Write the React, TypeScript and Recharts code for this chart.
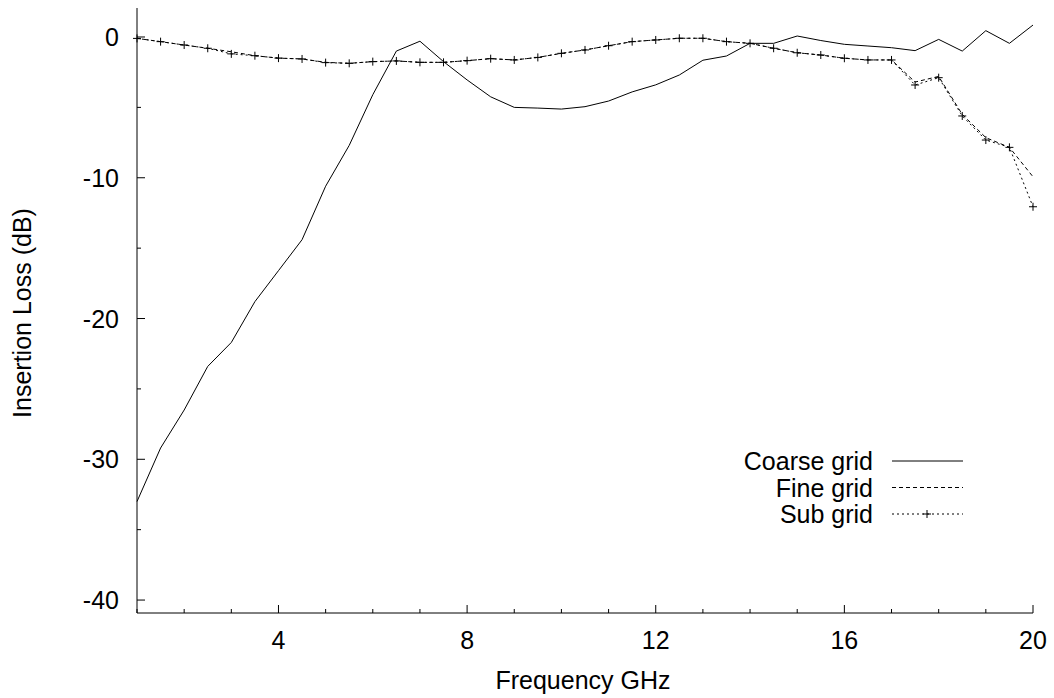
import React from "react";
import { LineChart, Line, XAxis, YAxis, Legend } from "recharts";

const frequency = [
  1, 1.5, 2, 2.5, 3, 3.5, 4, 4.5, 5, 5.5, 6, 6.5, 7, 7.5, 8, 8.5, 9, 9.5, 10, 10.5,
  11, 11.5, 12, 12.5, 13, 13.5, 14, 14.5, 15, 15.5, 16, 16.5, 17, 17.5, 18, 18.5, 19, 19.5, 20,
];
const coarseGrid = [
  -33.0, -29.2, -26.5, -23.4, -21.7, -18.8, -16.6, -14.4, -10.6, -7.7, -4.1, -1.0, -0.3, -1.75, -3.05, -4.25, -5.0, -5.05, -5.12, -4.95,
  -4.55, -3.9, -3.4, -2.7, -1.65, -1.35, -0.45, -0.45, 0.07, -0.25, -0.52, -0.64, -0.76, -0.97, -0.17, -1.0, 0.45, -0.45, 0.85,
];
const fineGrid = [
  -0.1, -0.33, -0.57, -0.8, -1.05, -1.33, -1.5, -1.56, -1.8, -1.87, -1.75, -1.7, -1.8, -1.8, -1.68, -1.54, -1.63, -1.45, -1.16, -0.92,
  -0.62, -0.33, -0.21, -0.09, -0.09, -0.33, -0.45, -0.8, -1.12, -1.28, -1.51, -1.63, -1.63, -3.2, -2.8, -5.5, -7.15, -7.84, -9.93,
];
const subGrid = [
  -0.1, -0.33, -0.57, -0.8, -1.2, -1.33, -1.5, -1.56, -1.82, -1.87, -1.75, -1.7, -1.8, -1.8, -1.68, -1.54, -1.63, -1.45, -1.16, -0.92,
  -0.62, -0.33, -0.21, -0.09, -0.09, -0.33, -0.45, -0.8, -1.12, -1.28, -1.51, -1.63, -1.63, -3.41, -2.89, -5.61, -7.32, -7.84, -12.06,
];

const xTicks = [1, 2, 3, 4, 5, 6, 7, 8, 9, 10, 11, 12, 13, 14, 15, 16, 17, 18, 19, 20];
const xMajorTicks = [4, 8, 12, 16, 20];
const yTicks = [-40, -35, -30, -25, -20, -15, -10, -5, 0];
const yMajorTicks = [-40, -30, -20, -10, 0];

const seriesNames = ["Coarse grid", "Fine grid", "Sub grid"];
const xLabel = "Frequency GHz";
const yLabel = "Insertion Loss (dB)";

const data = frequency.map((f, i) => ({
  f,
  coarse: coarseGrid[i],
  fine: fineGrid[i],
  sub: subGrid[i],
}));

const W = 1054;
const H = 698;
const PLOT_LEFT = 137;
const PLOT_BOTTOM = 613;
const FONT = "'Liberation Sans', Arial, Helvetica, sans-serif";
const FS = 25;

const series = [
  { key: "coarse", name: seriesNames[0], dash: undefined as string | undefined, marker: false },
  { key: "fine", name: seriesNames[1], dash: "4 3", marker: false },
  { key: "sub", name: seriesNames[2], dash: "2 3", marker: true },
];

const XTick = (props: any) => {
  const { x, payload } = props;
  const major = xMajorTicks.includes(payload.value);
  return (
    <g>
      <line x1={x} x2={x} y1={PLOT_BOTTOM} y2={PLOT_BOTTOM - (major ? 8 : 4)} stroke="#000" strokeWidth={1} />
      {major && (
        <text x={x} y={PLOT_BOTTOM + 36} textAnchor="middle" fontFamily={FONT} fontSize={FS} fill="#000">
          {payload.value}
        </text>
      )}
    </g>
  );
};

const YTick = (props: any) => {
  const { y, payload } = props;
  const major = yMajorTicks.includes(payload.value);
  return (
    <g>
      <line x1={PLOT_LEFT} x2={PLOT_LEFT + (major ? 8 : 4)} y1={y} y2={y} stroke="#000" strokeWidth={1} />
      {major && (
        <text x={119} y={y + 9} textAnchor="end" fontFamily={FONT} fontSize={FS} fill="#000">
          {payload.value}
        </text>
      )}
    </g>
  );
};

const PlusDot = (props: any) => {
  const { cx, cy, index } = props;
  if (cx == null || cy == null) return <g key={index} />;
  const a = 4;
  return (
    <g key={index}>
      <line x1={cx - a} x2={cx + a} y1={cy} y2={cy} stroke="#000" strokeWidth={1} />
      <line x1={cx} x2={cx} y1={cy - a} y2={cy + a} stroke="#000" strokeWidth={1} />
    </g>
  );
};

const LegendContent = () => (
  <svg width={300} height={90} style={{ overflow: "visible" }}>
    {series.map((s, i) => {
      const cy = 16 + i * 26.5;
      return (
        <g key={s.key}>
          <text x={173} y={cy + 9} textAnchor="end" fontFamily={FONT} fontSize={FS} fill="#000">
            {s.name}
          </text>
          <line x1={192} x2={263} y1={cy} y2={cy} stroke="#000" strokeWidth={1} strokeDasharray={s.dash} />
          {s.marker && (
            <g>
              <line x1={223} x2={231} y1={cy} y2={cy} stroke="#000" />
              <line x1={227} x2={227} y1={cy - 4} y2={cy + 4} stroke="#000" />
            </g>
          )}
        </g>
      );
    })}
  </svg>
);

export default function App() {
  return (
    <div style={{ position: "absolute", left: 0, top: 0, width: W, height: H, background: "#fff" }}>
      <LineChart width={W} height={H} data={data} margin={{ top: 8, right: 21, bottom: 0, left: 0 }}>
        <XAxis
          dataKey="f"
          type="number"
          domain={[1, 20]}
          ticks={xTicks}
          interval={0}
          height={85}
          tickLine={false}
          axisLine={{ stroke: "#000", strokeWidth: 1 }}
          tick={<XTick />}
          label={{
            content: () => (
              <text x={583} y={689} textAnchor="middle" fontFamily={FONT} fontSize={FS} fill="#000">
                {xLabel}
              </text>
            ),
          }}
        />
        <YAxis
          type="number"
          domain={[-40.92, 2.06]}
          ticks={yTicks}
          interval={0}
          width={137}
          allowDataOverflow
          tickLine={false}
          axisLine={{ stroke: "#000", strokeWidth: 1 }}
          tick={<YTick />}
          label={{
            content: () => (
              <text
                x={31}
                y={313}
                textAnchor="middle"
                fontFamily={FONT}
                fontSize={FS}
                fill="#000"
                transform="rotate(-90 31 313)"
              >
                {yLabel}
              </text>
            ),
          }}
        />
        <Legend
          layout="horizontal"
          verticalAlign="middle"
          align="center"
          content={<LegendContent />}
          wrapperStyle={{ position: "absolute", left: 700, top: 445, width: 300, height: 90 }}
        />
        <Line
          type="linear"
          dataKey="coarse"
          name={seriesNames[0]}
          stroke="#000"
          strokeWidth={1}
          dot={false}
          isAnimationActive={false}
        />
        <Line
          type="linear"
          dataKey="fine"
          name={seriesNames[1]}
          stroke="#000"
          strokeWidth={1}
          strokeDasharray="4 3"
          dot={false}
          isAnimationActive={false}
        />
        <Line
          type="linear"
          dataKey="sub"
          name={seriesNames[2]}
          stroke="#000"
          strokeWidth={1}
          strokeDasharray="2 3"
          dot={<PlusDot />}
          isAnimationActive={false}
        />
      </LineChart>
    </div>
  );
}
